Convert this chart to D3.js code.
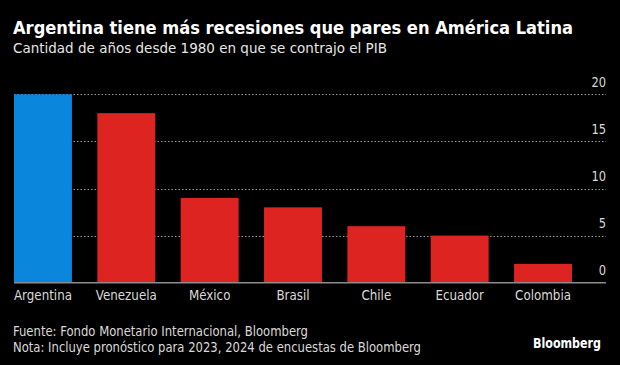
<!DOCTYPE html>
<html>
<head>
<meta charset="utf-8">
<script src="https://cdn.jsdelivr.net/npm/d3@7"></script>
<style>
  html, body { margin: 0; padding: 0; background: #000; }
  svg { display: block; }
  text { font-family: "DejaVu Sans Condensed", "DejaVu Sans", "Roboto", sans-serif; }
</style>
</head>
<body>
<script>
const categories = ["Argentina", "Venezuela", "México", "Brasil", "Chile", "Ecuador", "Colombia"];
const values = [20, 18, 9, 8, 6, 5, 2];
const highlight = ["Argentina"];
const yTicks = [0, 5, 10, 15, 20];
const title = "Argentina tiene más recesiones que pares en América Latina";
const subtitle = "Cantidad de años desde 1980 en que se contrajo el PIB";
const source = "Fuente: Fondo Monetario Internacional, Bloomberg";
const note = "Nota: Incluye pronóstico para 2023, 2024 de encuestas de Bloomberg";

const W = 620, H = 365;
const svg = d3.select("body").append("svg").attr("width", W).attr("height", H);
svg.append("rect").attr("width", W).attr("height", H).attr("fill", "#000");

const x = d3.scaleBand().domain(categories).range([14, 572]).paddingInner(0.305).paddingOuter(0);
const y = d3.scaleLinear().domain([0, 20]).range([282.7, 94.3]);

// fit text to a target width (condensed look)
function fitTo(sel, target) {
  sel.attr("textLength", target).attr("lengthAdjust", "spacingAndGlyphs");
}
function squeeze(sel, factor) {
  sel.each(function () {
    const w = this.getComputedTextLength();
    d3.select(this).attr("textLength", w * factor).attr("lengthAdjust", "spacingAndGlyphs");
  });
}

// Title & subtitle
const t = svg.append("text").attr("x", 13).attr("y", 34).attr("fill", "#fff")
  .attr("font-weight", "bold").attr("font-size", 17.5).text(title);
fitTo(t, 560);
const st = svg.append("text").attr("x", 13).attr("y", 53).attr("fill", "#e6e6e6")
  .attr("font-size", 14.5).text(subtitle);
fitTo(st, 374);

// gridlines
const grid = svg.append("g");
yTicks.filter(d => d > 0).forEach(d => {
  grid.append("line").attr("x1", 14).attr("x2", 606)
    .attr("y1", Math.round(y(d)) + 0.5).attr("y2", Math.round(y(d)) + 0.5)
    .attr("stroke", "#9a9a9a").attr("stroke-width", 1).attr("stroke-dasharray", "1.5,2");
});

// bars
svg.append("g").selectAll("rect").data(categories).join("rect")
  .attr("x", d => x(d)).attr("width", x.bandwidth())
  .attr("y", (d, i) => y(values[i])).attr("height", (d, i) => y(0) - y(values[i]))
  .attr("fill", d => highlight.includes(d) ? "#0a87dc" : "#dd2420");

// baseline
svg.append("line").attr("x1", 14).attr("x2", 606).attr("y1", y(0)).attr("y2", y(0))
  .attr("stroke", "#8c8c8c").attr("stroke-width", 1.5);

const ff = "\"DejaVu Sans Condensed\", \"DejaVu Sans\", sans-serif";

// y axis (right)
const yAxis = d3.axisRight(y).tickValues(yTicks).tickSize(0).tickFormat(d3.format("d"));
const ya = svg.append("g").attr("transform", "translate(606,0)").call(yAxis);
ya.select(".domain").remove();
const ytxt = ya.selectAll("text").attr("x", 0).attr("dy", "-0.55em").attr("text-anchor", "end")
  .attr("fill", "#d9d9d9").attr("font-size", 14.5).style("font-family", ff);
squeeze(ytxt, 0.88);

// x axis
const xAxis = d3.axisBottom(x).tickSize(0);
const xa = svg.append("g").attr("transform", `translate(0,${y(0)})`).call(xAxis);
xa.select(".domain").remove();
const xtxt = xa.selectAll("text").attr("y", 0).attr("dy", "17.5").attr("fill", "#d9d9d9")
  .attr("font-size", 14.5).style("font-family", ff);
const argW = xtxt.filter(d => d === "Argentina").node().getComputedTextLength();
squeeze(xtxt, 58 / argW);

// footer
const s1 = svg.append("text").attr("x", 13).attr("y", 335.5).attr("fill", "#d9d9d9").attr("font-size", 13.5).text(source);
fitTo(s1, 295);
const s2 = svg.append("text").attr("x", 13).attr("y", 351.5).attr("fill", "#d9d9d9").attr("font-size", 13.5).text(note);
fitTo(s2, 408);
const logo = svg.append("text").attr("x", 601).attr("y", 348).attr("text-anchor", "end").attr("fill", "#fff")
  .attr("font-weight", "bold").attr("font-size", 14.5).text("Bloomberg");
fitTo(logo, 68);
</script>
</body>
</html>
